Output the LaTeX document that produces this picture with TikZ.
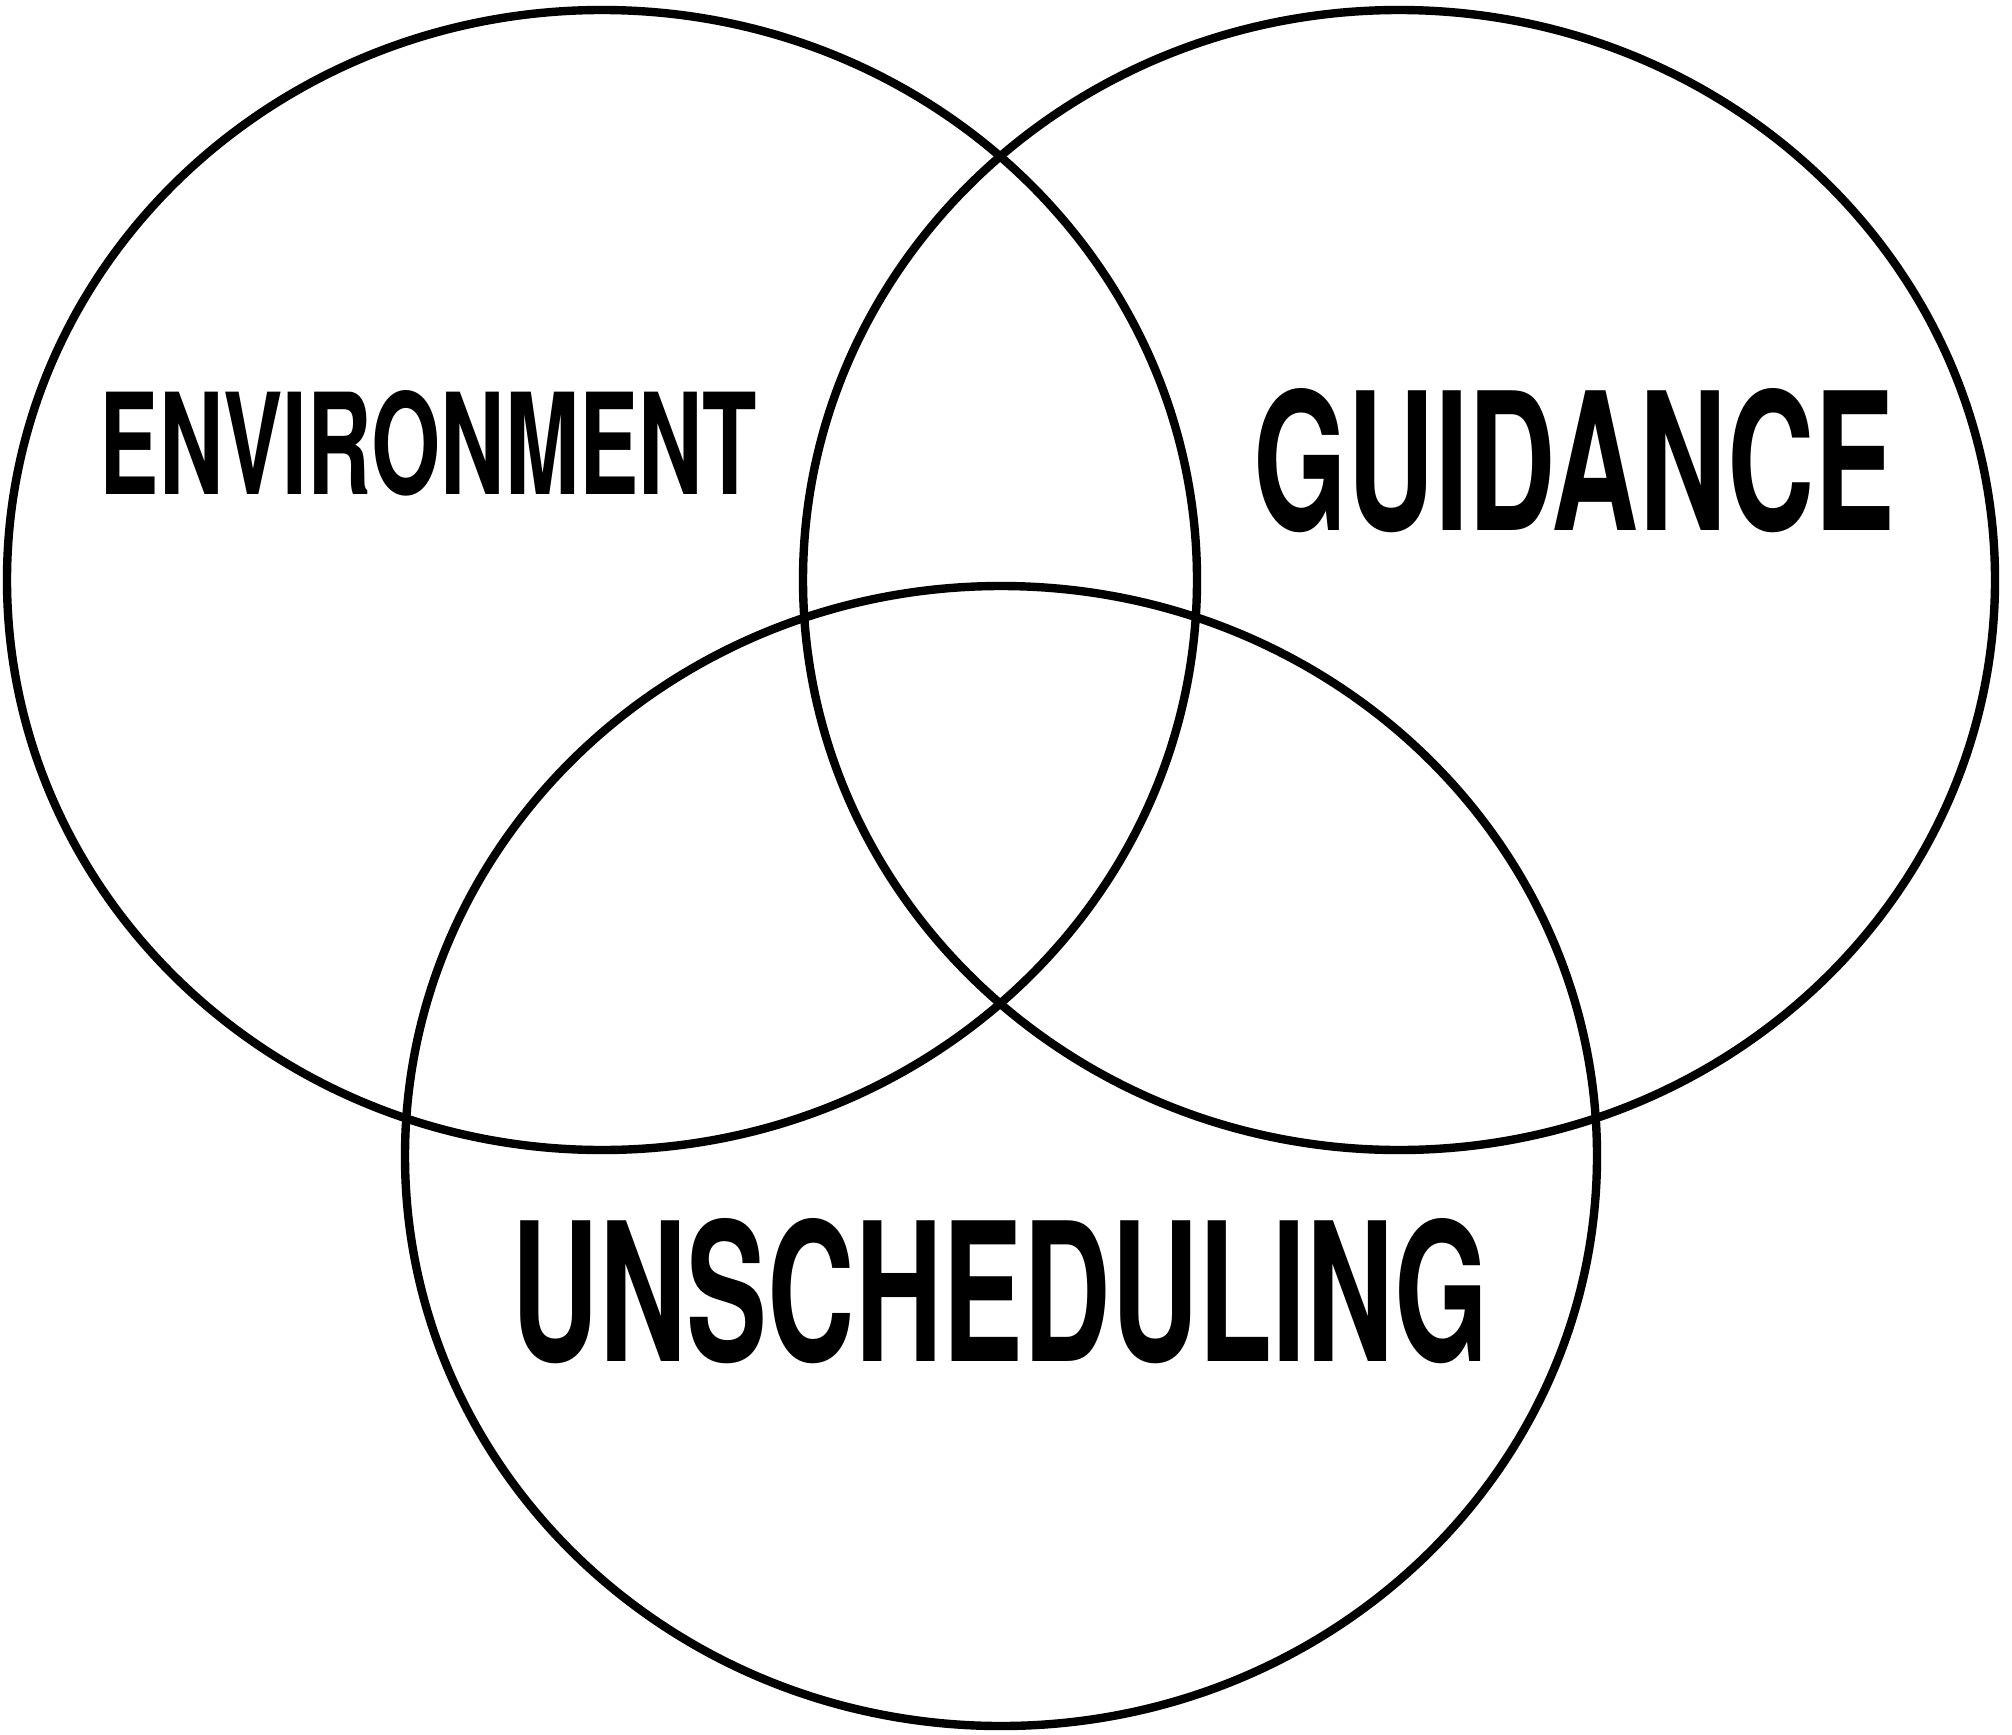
\documentclass[tikz,border=0pt]{standalone}
\usepackage{fontspec}
\setmainfont{TeX Gyre Heros}
\usepackage{graphicx}
\begin{document}
\begin{tikzpicture}[x=0.5pt,y=-0.5pt,
  ring/.style={draw=black,line width=4.2pt},
  label/.style={inner sep=0pt,outer sep=0pt,anchor=center}]
\useasboundingbox (0,0) rectangle (2012,1734);
\fill[white] (0,0) rectangle (2012,1734);
\draw[ring] (602,580) ellipse [x radius=595, y radius=-570];
\draw[ring] (1399,580) ellipse [x radius=596, y radius=-570];
\draw[ring] (1001,1156) ellipse [x radius=596, y radius=-570];
\node[label] (env) at (428.5,443) {\resizebox{328.5pt}{52pt}{\bfseries ENVIRONMENT}};
\node[label] (gui) at (1574.5,461) {\resizebox{320.5pt}{71pt}{\bfseries GUIDANCE}};
\node[label] (uns) at (1000.5,1291.5) {\resizebox{488.5pt}{71.5pt}{\bfseries UNSCHEDULING}};
\end{tikzpicture}
\end{document}
